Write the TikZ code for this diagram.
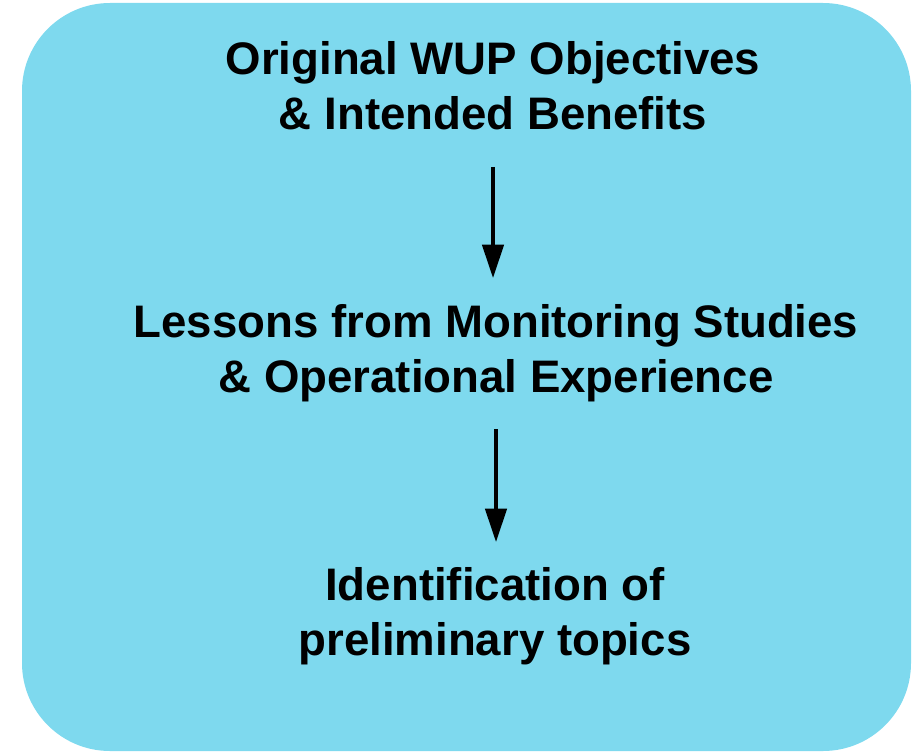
\documentclass[tikz,border=0pt]{standalone}
\usepackage{fontspec}
\setmainfont{Liberation Sans}
\usetikzlibrary{arrows.meta, positioning}
\definecolor{panelblue}{RGB}{126,217,238}

\begin{document}
\begin{tikzpicture}[x=0.75pt, y=0.75pt,
    stage/.style={align=center, anchor=base, font=\fontsize{34.2}{41.25}\selectfont\bfseries},
    flow/.style={line width=2.6pt, -{Triangle[length=25pt, width=16pt]}}]
    \useasboundingbox (0,0) rectangle (916,751);
    \fill[panelblue, rounded corners=66pt] (22,0) rectangle (911,748);

    \node[stage] (objectives) at (493,621) {Original WUP Objectives\\ \& Intended Benefits};
    \node[stage] (lessons)    at (496,359) {Lessons from Monitoring Studies\\ \& Operational Experience};
    \node[stage] (topics)     at (495,96)  {Identification of\\ preliminary topics};

    % arrow ends, measured from the last baselines
    \coordinate (o1) at ([yshift=-27.75pt]objectives.base);
    \coordinate (l2) at ([yshift=85.5pt]lessons.base);
    \coordinate (l1) at ([yshift=-27.75pt]lessons.base);
    \coordinate (t2) at ([yshift=84.75pt]topics.base);

    \draw[flow] (o1) -- (o1 |- l2);
    \draw[flow] (l1) -- (l1 |- t2);
\end{tikzpicture}
\end{document}
